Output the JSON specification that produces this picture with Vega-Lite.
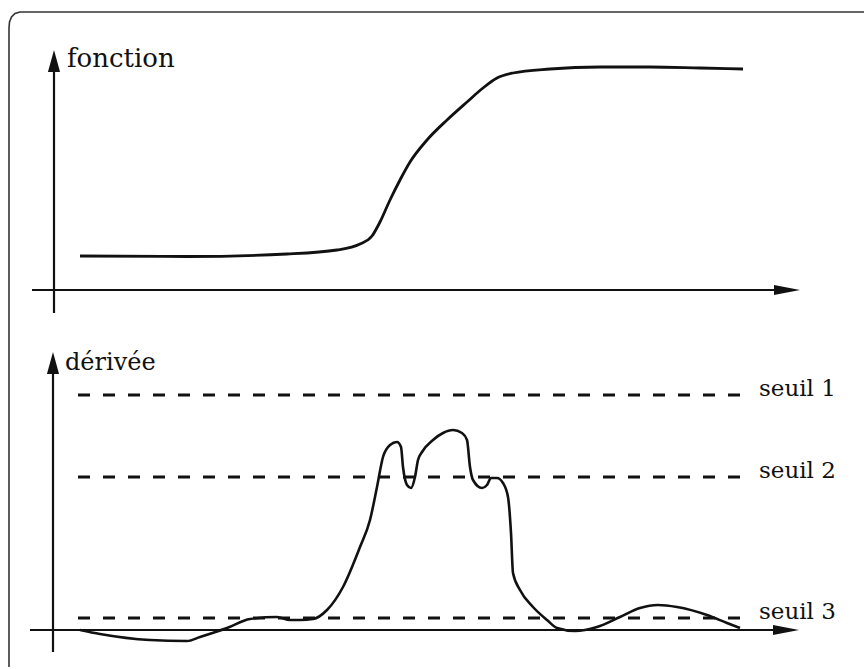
{
  "$schema": "https://vega.github.io/schema/vega-lite/v6.json",
  "padding": 0,
  "spacing": 0,
  "bounds": "flush",
  "background": "white",
  "config": {"view": {"stroke": null}, "concat": {"spacing": 0}},
  "datasets": {
    "fonction": [
      {"t": 26, "f": 34}, {"t": 133, "f": 33.5}, {"t": 233, "f": 36}, {"t": 283, "f": 40},
      {"t": 306, "f": 46}, {"t": 318, "f": 54}, {"t": 326, "f": 68}, {"t": 336, "f": 90},
      {"t": 346, "f": 110}, {"t": 356, "f": 128}, {"t": 373, "f": 150}, {"t": 393, "f": 170},
      {"t": 413, "f": 188}, {"t": 429, "f": 202}, {"t": 443, "f": 212}, {"t": 459, "f": 217},
      {"t": 496, "f": 221}, {"t": 546, "f": 223}, {"t": 596, "f": 223}, {"t": 646, "f": 222},
      {"t": 689, "f": 221}
    ],
    "derivee": [
      {"t": 26, "d": 0}, {"t": 46, "d": -4}, {"t": 96, "d": -10}, {"t": 133, "d": -11},
      {"t": 146, "d": -7}, {"t": 173, "d": 2}, {"t": 196, "d": 11}, {"t": 223, "d": 13},
      {"t": 236, "d": 10}, {"t": 246, "d": 10}, {"t": 259, "d": 11}, {"t": 273, "d": 20},
      {"t": 289, "d": 43}, {"t": 306, "d": 83}, {"t": 316, "d": 110}, {"t": 323, "d": 143},
      {"t": 329, "d": 173}, {"t": 336, "d": 185}, {"t": 343, "d": 188}, {"t": 347, "d": 183},
      {"t": 349, "d": 163}, {"t": 353, "d": 145}, {"t": 357, "d": 142}, {"t": 361, "d": 153},
      {"t": 364, "d": 170}, {"t": 368, "d": 178}, {"t": 379, "d": 190}, {"t": 389, "d": 197},
      {"t": 399, "d": 200}, {"t": 408, "d": 197}, {"t": 413, "d": 190}, {"t": 416, "d": 163},
      {"t": 419, "d": 150}, {"t": 428, "d": 142}, {"t": 433, "d": 145}, {"t": 437, "d": 152},
      {"t": 443, "d": 152}, {"t": 449, "d": 147}, {"t": 454, "d": 133}, {"t": 457, "d": 97},
      {"t": 459, "d": 57}, {"t": 466, "d": 40}, {"t": 479, "d": 23}, {"t": 493, "d": 10},
      {"t": 503, "d": 2}, {"t": 521, "d": -1}, {"t": 543, "d": 3}, {"t": 566, "d": 13},
      {"t": 586, "d": 22}, {"t": 604, "d": 25}, {"t": 623, "d": 23}, {"t": 653, "d": 15},
      {"t": 673, "d": 7}, {"t": 686, "d": 2}
    ],
    "seuils": [
      {"t": 24, "t2": 688, "d": 235, "label": "seuil 1"},
      {"t": 24, "t2": 688, "d": 153, "label": "seuil 2"},
      {"t": 24, "t2": 688, "d": 12, "label": "seuil 3"}
    ],
    "axes_top": [
      {"t": -22, "t2": 736, "f": 0, "f2": 0},
      {"t": 0, "t2": 0, "f": -23, "f2": 230}
    ],
    "axes_bottom": [
      {"t": -24, "t2": 735, "d": 0, "d2": 0},
      {"t": -1, "t2": -1, "d": -22, "d2": 268}
    ],
    "border_top": [
      {"k": 0, "t": -45, "f": -40}, {"k": 1, "t": -45, "f": 262}, {"k": 2, "t": -44.5, "f": 268},
      {"k": 3, "t": -42.5, "f": 273}, {"k": 4, "t": -39, "f": 276.5}, {"k": 5, "t": -34, "f": 278},
      {"k": 6, "t": 810, "f": 278}
    ],
    "border_bottom": [
      {"k": 0, "t": -45, "d": 300}, {"k": 1, "t": -45, "d": -37}
    ]
  },
  "vconcat": [
    {
      "width": 864,
      "height": 330,
      "layer": [
        {
          "data": {"name": "border_top"},
          "mark": {"type": "line", "color": "#333", "strokeWidth": 1.6},
          "encoding": {
            "x": {"field": "t", "type": "quantitative", "scale": {"domain": [-54, 810], "nice": false, "zero": false}, "axis": null},
            "y": {"field": "f", "type": "quantitative", "scale": {"domain": [-40, 290], "nice": false, "zero": false}, "axis": null},
            "order": {"field": "k"}
          }
        },
        {
          "data": {"name": "axes_top"},
          "mark": {"type": "rule", "color": "#111", "strokeWidth": 2.2},
          "encoding": {
            "x": {"field": "t", "type": "quantitative"},
            "x2": {"field": "t2"},
            "y": {"field": "f", "type": "quantitative"},
            "y2": {"field": "f2"}
          }
        },
        {
          "data": {"values": [{"t": 746, "f": 0}]},
          "mark": {"type": "point", "shape": "M-2,-0.38L0,0L-2,0.38Z", "size": 676, "filled": true, "color": "#111", "opacity": 1, "strokeWidth": 0},
          "encoding": {
            "x": {"field": "t", "type": "quantitative"},
            "y": {"field": "f", "type": "quantitative"}
          }
        },
        {
          "data": {"values": [{"t": 0, "f": 240}]},
          "mark": {"type": "point", "shape": "M-0.55,2L0,0L0.55,2Z", "size": 484, "filled": true, "color": "#111", "opacity": 1, "strokeWidth": 0},
          "encoding": {
            "x": {"field": "t", "type": "quantitative"},
            "y": {"field": "f", "type": "quantitative"}
          }
        },
        {
          "data": {"name": "fonction"},
          "mark": {"type": "line", "color": "#111", "strokeWidth": 2.8, "interpolate": "monotone"},
          "encoding": {
            "x": {"field": "t", "type": "quantitative"},
            "y": {"field": "f", "type": "quantitative"}
          }
        },
        {
          "data": {"values": [{"t": 13, "f": 223, "label": "fonction"}]},
          "mark": {"type": "text", "align": "left", "baseline": "alphabetic", "font": "DejaVu Serif", "fontSize": 26, "color": "#111"},
          "encoding": {
            "x": {"field": "t", "type": "quantitative"},
            "y": {"field": "f", "type": "quantitative"},
            "text": {"field": "label"}
          }
        }
      ]
    },
    {
      "width": 864,
      "height": 339,
      "layer": [
        {
          "data": {"name": "border_bottom"},
          "mark": {"type": "line", "color": "#333", "strokeWidth": 1.6},
          "encoding": {
            "x": {"field": "t", "type": "quantitative", "scale": {"domain": [-54, 810], "nice": false, "zero": false}, "axis": null},
            "y": {"field": "d", "type": "quantitative", "scale": {"domain": [-39, 300], "nice": false, "zero": false}, "axis": null},
            "order": {"field": "k"}
          }
        },
        {
          "data": {"name": "axes_bottom"},
          "mark": {"type": "rule", "color": "#111", "strokeWidth": 2.2},
          "encoding": {
            "x": {"field": "t", "type": "quantitative"},
            "x2": {"field": "t2"},
            "y": {"field": "d", "type": "quantitative"},
            "y2": {"field": "d2"}
          }
        },
        {
          "data": {"values": [{"t": 745, "d": 0}]},
          "mark": {"type": "point", "shape": "M-2,-0.38L0,0L-2,0.38Z", "size": 676, "filled": true, "color": "#111", "opacity": 1, "strokeWidth": 0},
          "encoding": {
            "x": {"field": "t", "type": "quantitative"},
            "y": {"field": "d", "type": "quantitative"}
          }
        },
        {
          "data": {"values": [{"t": -1, "d": 278}]},
          "mark": {"type": "point", "shape": "M-0.55,2L0,0L0.55,2Z", "size": 484, "filled": true, "color": "#111", "opacity": 1, "strokeWidth": 0},
          "encoding": {
            "x": {"field": "t", "type": "quantitative"},
            "y": {"field": "d", "type": "quantitative"}
          }
        },
        {
          "data": {"name": "seuils"},
          "mark": {"type": "rule", "color": "#111", "strokeWidth": 2.8, "strokeDash": [12, 13]},
          "encoding": {
            "x": {"field": "t", "type": "quantitative"},
            "x2": {"field": "t2"},
            "y": {"field": "d", "type": "quantitative"}
          }
        },
        {
          "data": {"name": "seuils"},
          "mark": {"type": "text", "align": "left", "baseline": "alphabetic", "font": "DejaVu Serif", "fontSize": 23, "color": "#111", "dx": 17, "dy": 1},
          "encoding": {
            "x": {"field": "t2", "type": "quantitative"},
            "y": {"field": "d", "type": "quantitative"},
            "text": {"field": "label"}
          }
        },
        {
          "data": {"name": "derivee"},
          "mark": {"type": "line", "color": "#111", "strokeWidth": 2.6, "interpolate": "monotone"},
          "encoding": {
            "x": {"field": "t", "type": "quantitative"},
            "y": {"field": "d", "type": "quantitative"}
          }
        },
        {
          "data": {"values": [{"t": 11, "d": 260, "label": "dérivée"}]},
          "mark": {"type": "text", "align": "left", "baseline": "alphabetic", "font": "DejaVu Serif", "fontSize": 24, "color": "#111"},
          "encoding": {
            "x": {"field": "t", "type": "quantitative"},
            "y": {"field": "d", "type": "quantitative"},
            "text": {"field": "label"}
          }
        }
      ]
    }
  ]
}
